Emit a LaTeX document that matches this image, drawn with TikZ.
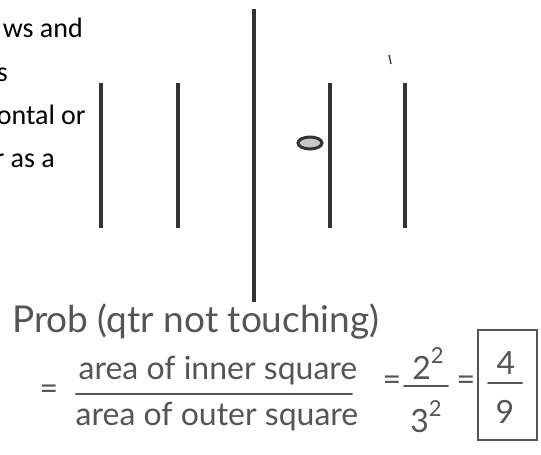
\documentclass[tikz,border=0pt]{standalone}
\usepackage{fontspec}
\newfontfamily\printfont{Carlito}
\newfontfamily\handfont{Lato}
\definecolor{ink}{HTML}{333333}
\definecolor{pencil}{HTML}{555555}
\newcommand\sqmark{\raisebox{0.5em}{\fontsize{22}{22}\selectfont 2}}

\begin{document}
\begin{tikzpicture}[x=1pt,y=-1pt,
  bar/.style={ink,line width=4pt},
  hand/.style={text=pencil,inner sep=0pt,font=\handfont\fontsize{32}{32}\selectfont},
  pen/.style={pencil,line width=2pt,line cap=round}]
  \useasboundingbox (0,0) rectangle (541,455);
  \clip (0,0) rectangle (541,455);
  % printed text, cut off at the left edge
  \node[anchor=base east,inner sep=0pt,font=\printfont\fontsize{28}{28}\selectfont] (rowA) at (83,37) {ws and};
  \node[anchor=base east,inner sep=0pt,font=\printfont\fontsize{28}{28}\selectfont] (rowB) at (8,81) {s};
  \node[anchor=base east,inner sep=0pt,font=\printfont\fontsize{28}{28}\selectfont] (rowC) at (86,124) {ontal or};
  \node[anchor=base east,inner sep=0pt,font=\printfont\fontsize{28}{28}\selectfont] (rowD) at (55,167) {r as a};
  % the lines of the grid
  \foreach \x in {101,178,330,405}
    \draw[bar] (\x,83) -- (\x,228);
  \draw[bar] (254,9) -- (254,302);
  % the coin
  \draw[ink,line width=3pt,fill=gray!45] (310,143) ellipse (12 and 6);
  % stray mark
  \draw[ink,line width=1.3pt] (389,55) -- (391,64);
  % handwritten working
  \node[hand,anchor=west,font=\handfont\fontsize{37}{37}\selectfont] (prob) at (12,322) {Prob (qtr not touching)};
  \node[hand] (eqA) at (49,392) {=};
  \node[hand] (numA) at (218,371) {area of inner square};
  \node[hand] (denA) at (217,417) {area of outer square};
  \draw[pen] (76,394) -- (352,394);
  \node[hand] (eqB) at (392,383) {=};
  \node[hand] (numB) at (428,364) {2\sqmark};
  \node[hand] (denB) at (426,417) {3\sqmark};
  \draw[pen] (404,386) -- (448,386);
  \node[hand] (eqC) at (466,383) {=};
  \draw[pen] (478,330) rectangle (537,440);
  \node[hand] (numC) at (506,363) {4};
  \node[hand] (denC) at (505,412) {9};
  \draw[pen] (488,383) -- (522,383);
\end{tikzpicture}
\end{document}
